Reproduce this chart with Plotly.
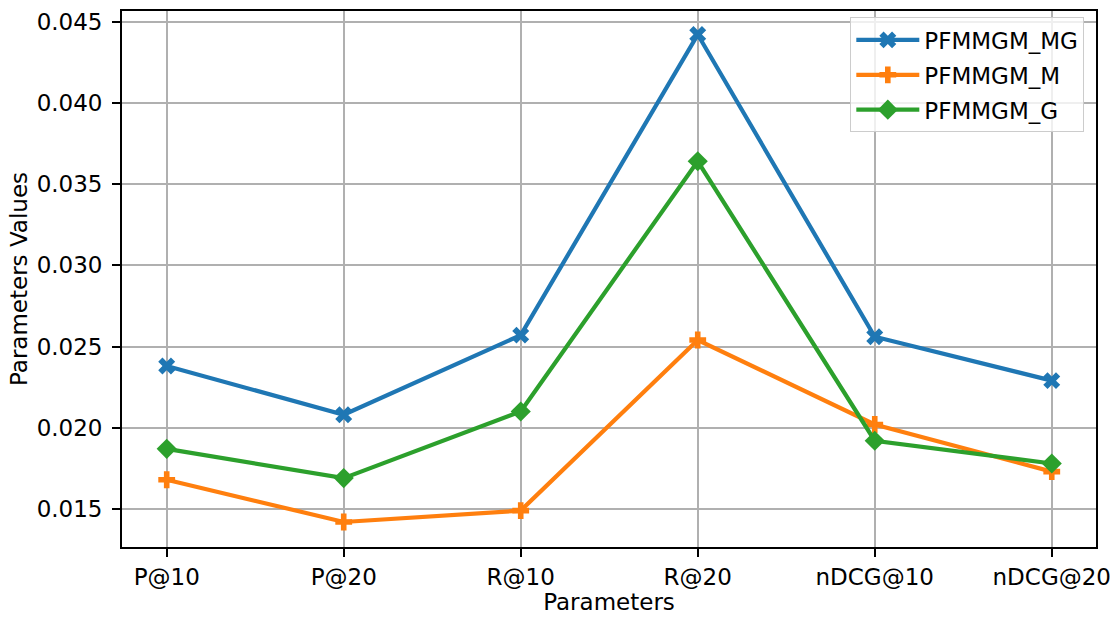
import plotly.graph_objects as go

categories = ["P@10", "P@20", "R@10", "R@20", "nDCG@10", "nDCG@20"]
mg_values = [0.0238, 0.0208, 0.0257, 0.0442, 0.0256, 0.0229]
m_values = [0.0168, 0.0142, 0.0149, 0.0254, 0.0202, 0.0173]
g_values = [0.0187, 0.0169, 0.0210, 0.0364, 0.0192, 0.0178]
series_names = ["PFMMGM_MG", "PFMMGM_M", "PFMMGM_G"]
y_ticks = [0.015, 0.020, 0.025, 0.030, 0.035, 0.040, 0.045]

colors = ["#1f77b4", "#ff7f0e", "#2ca02c"]
symbols = ["x", "cross", "diamond"]
sizes = [15, 14, 15.5]
FONT = "DejaVu Sans"
FS = 23

fig = go.Figure()
xs = list(range(len(categories)))
for i, (name, vals, c, s, sz) in enumerate(zip(series_names, [mg_values, m_values, g_values], colors, symbols, sizes)):
    fig.add_trace(go.Scatter(
        x=xs, y=vals, name=name, mode="lines+markers",
        legendgroup=f"g{i}",
        line=dict(color=c, width=4.2),
        marker=dict(symbol=s, size=sz, color=c, line=dict(width=0)),
    ))

axis_common = dict(
    showline=True, linecolor="black", linewidth=1.8, mirror=True,
    showgrid=True, gridcolor="#b0b0b0", gridwidth=1.8,
    ticks="outside", ticklen=8, tickwidth=1.8, tickcolor="black",
    tickfont=dict(family=FONT, size=FS, color="black"),
    zeroline=False,
)

fig.update_layout(
    width=1120, height=619,
    margin=dict(l=122, r=23, t=9, b=70),
    paper_bgcolor="white", plot_bgcolor="white",
    font=dict(family=FONT, size=FS, color="black"),
    xaxis=dict(
        **axis_common,
        range=[-0.2525, 5.25],
        tickmode="array", tickvals=xs, ticktext=categories,
        title=dict(text="Parameters", font=dict(family=FONT, size=FS), standoff=4),
        ticklabelstandoff=0,
    ),
    yaxis=dict(
        **axis_common,
        range=[0.01266, 0.04565],
        tickmode="array", tickvals=y_ticks,
        ticktext=[f"{v:.3f}" for v in y_ticks],
        title=dict(text="Parameters Values", font=dict(family=FONT, size=FS), standoff=3),
        ticklabelstandoff=5,
    ),
    legend=dict(
        x=0.988, y=0.988, xanchor="right", yanchor="top",
        bgcolor="rgba(255,255,255,0.8)", bordercolor="#cccccc", borderwidth=1,
        font=dict(family=FONT, size=FS, color="black"),
        itemwidth=63, tracegroupgap=2,
    ),
    showlegend=True,
)

fig.write_html("out.html")
